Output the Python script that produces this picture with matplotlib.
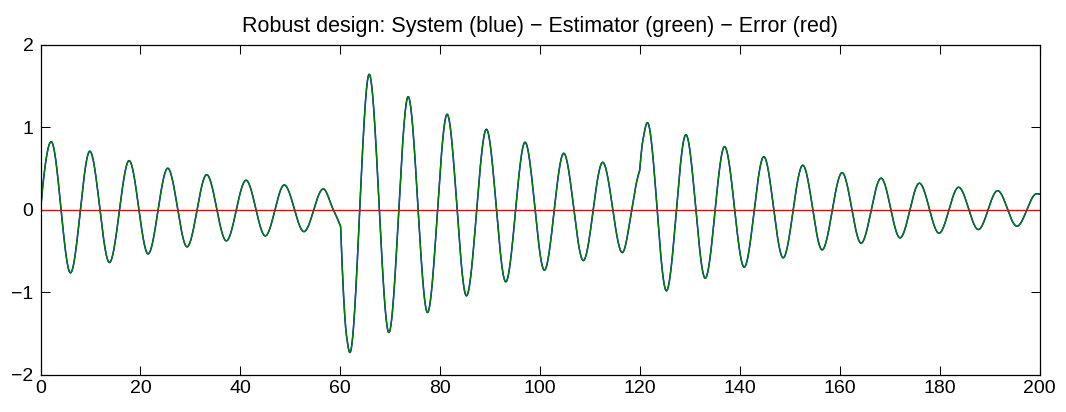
import numpy as np
import matplotlib
matplotlib.use("Agg")
import matplotlib.pyplot as plt

plt.rcParams['font.family'] = ['Liberation Sans', 'DejaVu Sans']

# Key points of the system response (turning points plus a few points near the
# two disturbance instants, where the curve has a kink).
sys_t = [0.0, 2.14, 6.0, 9.87, 13.8, 17.74, 21.54, 25.47, 29.34, 33.27, 37.2,
         41.14, 45.0, 48.8, 52.74, 56.6, 58.6, 59.4, 60.08,
         61.28, 61.94, 65.8, 69.74, 73.6, 77.47, 81.4, 85.27, 89.27, 93.14,
         97.0, 100.87, 104.74, 108.67, 112.54, 116.47, 118.4, 119.28, 119.94,
         120.6, 121.5, 125.3, 129.2, 133.07, 136.94, 140.87, 144.8, 148.67,
         152.6, 156.47, 160.47, 164.27, 168.27, 172.07, 175.94, 179.87, 183.8,
         187.74, 191.6, 195.47, 199.4, 200.0]
sys_y = [0.0, 0.824, -0.767, 0.708, -0.642, 0.594, -0.537, 0.502, -0.452,
         0.424, -0.379, 0.356, -0.319, 0.299, -0.267, 0.251, 0.0, -0.104, -0.206,
         -1.54, -1.733, 1.641, -1.491, 1.370, -1.248, 1.156, -1.046, 0.974,
         -0.876, 0.817, -0.735, 0.683, -0.618, 0.574, -0.521, 0.0, 0.32, 0.473,
         0.845, 1.055, -0.985, 0.909, -0.832, 0.764, -0.698, 0.642, -0.585,
         0.538, -0.488, 0.448, -0.407, 0.381, -0.343, 0.320, -0.286, 0.271,
         -0.242, 0.230, -0.202, 0.192, 0.188]
# Instants where the disturbance enters (slope discontinuities)
kink_t = [60.08, 119.94]

# The estimator tracks the system exactly; the error stays at zero.
est_t = list(sys_t)
est_y = list(sys_y)
err_t = [0.0, 200.0]
err_y = [0.0, 0.0]

title = "Robust design: System (blue) \u2212 Estimator (green) \u2212 Error (red)"
xticks = [0, 20, 40, 60, 80, 100, 120, 140, 160, 180, 200]
yticks = [-2, -1, 0, 1, 2]


def pchip(x, y, xs):
    x = np.asarray(x, float)
    y = np.asarray(y, float)
    n = len(x)
    h = np.diff(x)
    delta = np.diff(y) / h
    d = np.zeros(n)
    if n == 2:
        d[:] = delta[0]
    else:
        for k in range(1, n - 1):
            if delta[k - 1] * delta[k] > 0:
                w1 = 2 * h[k] + h[k - 1]
                w2 = h[k] + 2 * h[k - 1]
                d[k] = (w1 + w2) / (w1 / delta[k - 1] + w2 / delta[k])

        def end_slope(h0, h1, d0, d1):
            s = ((2 * h0 + h1) * d0 - h0 * d1) / (h0 + h1)
            if np.sign(s) != np.sign(d0):
                return 0.0
            if np.sign(d0) != np.sign(d1) and abs(s) > abs(3 * d0):
                return 3 * d0
            return s

        d[0] = end_slope(h[0], h[1], delta[0], delta[1])
        d[-1] = end_slope(h[-1], h[-2], delta[-1], delta[-2])
    idx = np.clip(np.searchsorted(x, xs) - 1, 0, n - 2)
    hh = h[idx]
    s = (xs - x[idx]) / hh
    h00 = 2 * s**3 - 3 * s**2 + 1
    h10 = s**3 - 2 * s**2 + s
    h01 = -2 * s**3 + 3 * s**2
    h11 = s**3 - s**2
    return h00 * y[idx] + h10 * hh * d[idx] + h01 * y[idx + 1] + h11 * hh * d[idx + 1]


def smooth_curve(t, y, breaks):
    t = np.asarray(t, float)
    y = np.asarray(y, float)
    edges = [t[0]] + list(breaks) + [t[-1]]
    xs_all, ys_all = [], []
    for a, b in zip(edges[:-1], edges[1:]):
        m = (t >= a - 1e-9) & (t <= b + 1e-9)
        xs = np.linspace(a, b, max(int((b - a) * 40), 2))
        xs_all.append(xs)
        ys_all.append(pchip(t[m], y[m], xs))
    return np.concatenate(xs_all), np.concatenate(ys_all)


fig = plt.figure(figsize=(10.66, 4.12), dpi=100)
ax = fig.add_axes([0.038, 0.091, 0.9372, 0.8005])

xs, ys = smooth_curve(sys_t, sys_y, kink_t)
ax.plot(xs, ys, color=(0, 0, 1), lw=1.1)
xe, ye = smooth_curve(est_t, est_y, kink_t)
ax.plot(xe, ye, color=(0, 0.5, 0), lw=1.0)
ax.plot(err_t, err_y, color=(1, 0, 0), lw=1.0)

ax.set_xlim(0, 200)
ax.set_ylim(-2, 2)
ax.set_xticks(xticks)
ax.set_yticks(yticks)
ax.set_xticklabels([str(v) for v in xticks])
ax.set_yticklabels([str(v).replace('-', '\u2212') for v in yticks])
ax.tick_params(direction='in', length=6.5, width=0.75, labelsize=14,
               top=True, right=True, colors='black')
ax.tick_params(axis='x', pad=4)
ax.tick_params(axis='y', pad=5)
for sp in ax.spines.values():
    sp.set_linewidth(0.9)
    sp.set_color('black')
ax.set_title(title, fontsize=15.5, pad=9)

fig.savefig("out.png", dpi=100)
